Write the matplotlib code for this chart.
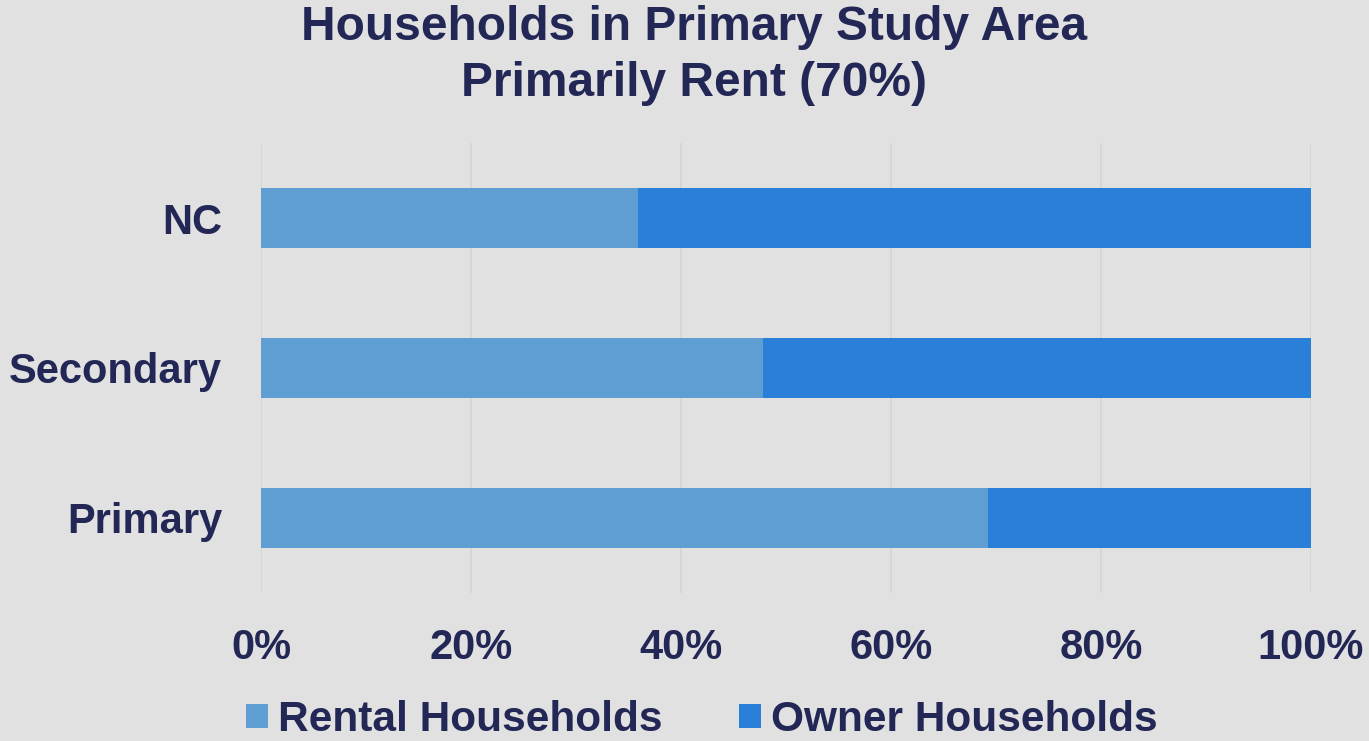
import matplotlib
matplotlib.use("Agg")
import matplotlib.pyplot as plt
from matplotlib.ticker import PercentFormatter

categories = ["Primary", "Secondary", "NC"]
rental = [69.2, 47.8, 35.9]
owner = [30.8, 52.2, 64.1]
series_names = ["Rental Households", "Owner Households"]
xticks = [0, 20, 40, 60, 80, 100]
title_lines = ["Households in Primary Study Area", "Primarily Rent (70%)"]

TXT = "#222756"
C_RENT = "#5F9ED3"
C_OWN = "#2A7FD8"
BG = "#E1E1E1"

plt.rcParams["font.family"] = ["Liberation Sans", "DejaVu Sans"]
plt.rcParams["font.weight"] = "bold"

fig = plt.figure(figsize=(13.69, 7.41), dpi=100, facecolor=BG)
ax = fig.add_axes([261/1369, 1-593/741, 1050/1369, 450/741])
ax.set_facecolor(BG)

y = list(range(len(categories)))
ax.barh(y, rental, height=0.395, color=C_RENT, label=series_names[0], zorder=3)
ax.barh(y, owner, left=rental, height=0.395, color=C_OWN, label=series_names[1], zorder=3)

ax.set_xlim(0, 100)
ax.set_ylim(-0.5, 2.5)
ax.set_xticks(xticks)
ax.xaxis.set_major_formatter(PercentFormatter(decimals=0))
ax.set_yticks(y)
ax.set_yticklabels(categories)
ax.grid(axis="x", color="#D4D4D4", linewidth=1.2, zorder=0)
for s in ax.spines.values():
    s.set_visible(False)
ax.tick_params(axis="x", length=0, pad=25, labelsize=30, labelcolor=TXT)
ax.tick_params(axis="y", length=0, pad=28, labelsize=30, labelcolor=TXT)
for t in ax.get_xticklabels() + ax.get_yticklabels():
    t.set_fontweight("bold")

for line, base in zip(title_lines, [40, 96]):
    fig.text(694/1369, 1-base/741, line, ha="center", va="baseline",
             fontsize=34.5, fontweight="bold", color=TXT)

leg = fig.legend(loc="center", bbox_to_anchor=(702/1369, 1-720/741), ncol=2,
                 frameon=False, fontsize=30.5, handlelength=0.52, handleheight=0.52,
                 handletextpad=0.24, columnspacing=1.8)
for t in leg.get_texts():
    t.set_color(TXT)
    t.set_fontweight("bold")

fig.savefig("out.png", dpi=100, facecolor=BG)
